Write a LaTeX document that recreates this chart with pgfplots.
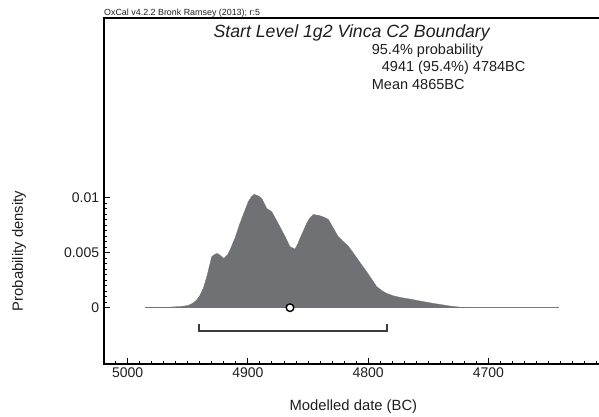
\documentclass[border=0pt]{standalone}
\usepackage{pgfplots}
\pgfplotsset{compat=1.18}
\usepackage{fontspec}
\setmainfont{Liberation Sans}
\definecolor{fillgray}{RGB}{112,113,117}
\definecolor{linegray}{RGB}{120,120,120}
\definecolor{bargray}{RGB}{60,60,60}
\definecolor{txt}{RGB}{30,30,30}
\begin{document}
\begin{tikzpicture}
\begin{axis}[
  at={(0pt,0pt)}, anchor=south west,
  scale only axis, width=506pt, height=346pt,
  clip=false,
  x dir=reverse,
  xmin=4598.8, xmax=5019.7,
  ymin=-0.00512, ymax=0.02634,
  axis line style={black, line width=1.8pt},
  xtick={5000,4900,4800,4700},
  xticklabels={5000,4900,4800,4700},
  minor xtick={4600,4610,...,5010},
  ytick={0,0.005,0.01},
  yticklabels={0,0.005,0.01},
  minor ytick={0.0005,0.001,...,0.0096},
  scaled y ticks=false,
  xtick pos=bottom, ytick pos=left,
  tick align=inside,
  major tick length=6pt, minor tick length=3.5pt,
  every tick/.style={black, line width=0.9pt},
  xticklabel style={font=\fontsize{14}{16}\selectfont, text=txt, anchor=base, inner sep=0pt, yshift=-13.7pt},
  yticklabel style={font=\fontsize{14}{16}\selectfont, text=txt, anchor=east, inner sep=0pt, xshift=-4.7pt},
  xlabel={Modelled date (BC)},
  ylabel={Probability density},
  every axis x label/.style={at={(axis description cs:0.4929,-0.1358)}, anchor=base, font=\fontsize{14.8}{17}\selectfont, text=txt},
  every axis y label/.style={at={(axis description cs:-0.168,0.3266)}, anchor=center, rotate=90, font=\fontsize{14.8}{17}\selectfont, text=txt},
  title={\itshape Start Level 1g2 Vinca C2 Boundary},
  every axis title/.style={at={(axis description cs:0.4895,0.943)}, anchor=base, font=\fontsize{17.7}{20}\selectfont, text=txt},
]
% baseline
\addplot[linegray, line width=0.8pt] coordinates {(4985.6,0) (4640.9,0)};
% probability density
\addplot[fill=fillgray, draw=fillgray, line width=0.3pt] coordinates {
(4985.6,0) (4967.6,0.00003) (4955,0.00012) (4949.6,0.00021) (4946,0.00040)
(4942.6,0.00070) (4940,0.00110) (4937.1,0.00176) (4934,0.00290)
(4930.1,0.00464) (4927.5,0.00485) (4925.5,0.00494) (4922.5,0.00472)
(4919.9,0.00448) (4917,0.00480) (4914.9,0.00524) (4910.5,0.00640)
(4906.6,0.00767) (4903,0.00870) (4899.7,0.00964) (4897,0.01010)
(4894.9,0.01030) (4891.5,0.01018) (4888.5,0.00994) (4886.5,0.00950)
(4884.4,0.00903) (4880.2,0.00873) (4876,0.00790) (4871.9,0.00706)
(4868.3,0.00630) (4865,0.00555) (4860.8,0.00533) (4858.5,0.00580)
(4856.7,0.00630) (4853.8,0.00700) (4851.1,0.00767) (4848.5,0.00815)
(4845.6,0.00848) (4840,0.00836) (4836.5,0.00822) (4833.1,0.00803)
(4829,0.00725) (4824.8,0.00645) (4820.5,0.00600) (4816.5,0.00561)
(4812.5,0.00500) (4808.2,0.00433) (4801.2,0.00327) (4792.8,0.00191)
(4788.5,0.00155) (4784.5,0.00130) (4779,0.00108) (4773.5,0.00094)
(4765,0.00078) (4756.8,0.00061) (4745.8,0.00039) (4738,0.00026)
(4731.9,0.00015) (4722.1,0.00003) (4718,0)
} \closedcycle;
% 95.4% range
\addplot[bargray, line width=1.8pt] coordinates {(4941,-0.00150) (4941,-0.00215) (4784,-0.00215) (4784,-0.00150)};
% mean
\addplot[only marks, mark=*, mark size=3.8pt, mark options={fill=white, draw=black, line width=1.4pt}] coordinates {(4865,0)};
% texts
\node[anchor=base west, inner sep=0pt, font=\fontsize{14.5}{17}\selectfont, text=txt] at (axis description cs:0.529,0.8931) {95.4\% probability};
\node[anchor=base west, inner sep=0pt, font=\fontsize{14.5}{17}\selectfont, text=txt] at (axis description cs:0.5488,0.8448) {4941 (95.4\%) 4784BC};
\node[anchor=base west, inner sep=0pt, font=\fontsize{14.5}{17}\selectfont, text=txt] at (axis description cs:0.529,0.7948) {Mean 4865BC};
\node[anchor=base west, inner sep=0pt, font=\fontsize{8.9}{10}\selectfont, text=txt] at (axis description cs:0,1.0064) {OxCal v4.2.2 Bronk Ramsey (2013); r:5};
\end{axis}
\pgfresetboundingbox
\useasboundingbox (-104pt,-52pt) rectangle (495pt,364pt);
\end{tikzpicture}
\end{document}
